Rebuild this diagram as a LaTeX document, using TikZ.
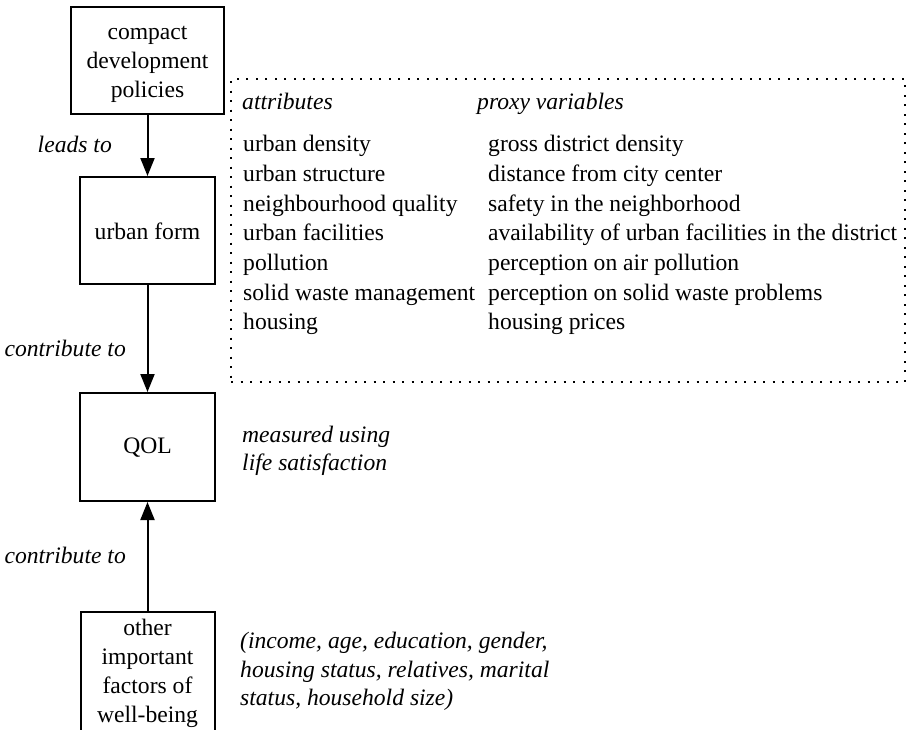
\documentclass[tikz,border=0pt]{standalone}
\usepackage{fontspec}
\setmainfont{Liberation Serif}
\usetikzlibrary{arrows.meta}
\begin{document}
\begin{tikzpicture}[x=1pt,y=-1pt,
  box/.style={draw, line width=2pt, inner sep=0pt},
  txt/.style={inner sep=0pt, font=\fontsize{23.6}{29}\selectfont},
  lbl/.style={inner sep=0pt, font=\fontsize{23.6}{29}\selectfont\itshape},
  arr/.style={line width=2pt, -{Triangle[length=18pt,width=14pt]}},
  boxline/.style={line width=2pt},
  dotbox/.style={draw, line width=1.5pt, dash pattern=on 2pt off 7.5pt}
]
\useasboundingbox (0,0) rectangle (907,729);

% main boxes
\node[box, minimum width=153pt, minimum height=107pt] (cdp) at (147.5,60.7) {};
\node[txt, align=center] (cdptext) at (147.5,64) {compact\\development\\policies};
\node[box, minimum width=135pt, minimum height=107pt] (uf) at (147.5,230.5) {};
\node[txt] (uftext) at (147.5,231.5) {urban form};
\node[box, minimum width=135pt, minimum height=108pt] (qol) at (147.5,447) {};
\node[txt] (qoltext) at (147.5,448) {QOL};

% bottom box (cut by the picture edge)
\node[txt, align=center] (other) at (147.5,673) {other\\important\\factors of\\well-being};
\coordinate (othertop) at (147.5,611.7);
\draw[boxline] (80.5,745) |- (othertop) -| (214.5,745);

% connectors
\draw[arr] (cdp.south) -- (uf.north);
\draw[arr] (uf.south) -- (qol.north);
\draw[arr] (othertop) -- (qol.south);

% connector labels
\node[lbl, anchor=base east] (leads) at (112,152) {leads to};
\node[lbl, anchor=base east] (contrib1) at (126,356) {contribute to};
\node[lbl, anchor=base east] (contrib2) at (126,563) {contribute to};

% side notes
\node[lbl, anchor=base west] (meas1) at (242,442) {measured using};
\node[lbl, anchor=base west] (meas2) at (242,470) {life satisfaction};
\node[lbl, anchor=base west] (oth1) at (240,648) {(income, age, education, gender,};
\node[lbl, anchor=base west] (oth2) at (240,677) {housing status, relatives, marital};
\node[lbl, anchor=base west] (oth3) at (240,705) {status, household size)};

% dotted attribute box
\node[dotbox, minimum width=674pt, minimum height=303pt, inner sep=0pt] (attrbox) at (568,230.5) {};
\node[lbl, anchor=base west] (hattr) at (242,109) {attributes};
\node[lbl, anchor=base west] (hproxy) at (477,109) {proxy variables};
\foreach \a/\p [count=\i] in {
  urban density/gross district density,
  urban structure/distance from city center,
  neighbourhood quality/safety in the neighborhood,
  urban facilities/availability of urban facilities in the district,
  pollution/perception on air pollution,
  solid waste management/perception on solid waste problems,
  housing/housing prices}{
  \node[txt, anchor=base west] (attr\i) at (243,{151.7+(\i-1)*29.7}) {\a};
  \node[txt, anchor=base west] (proxy\i) at (488,{151.7+(\i-1)*29.7}) {\p};
}
\end{tikzpicture}
\end{document}
